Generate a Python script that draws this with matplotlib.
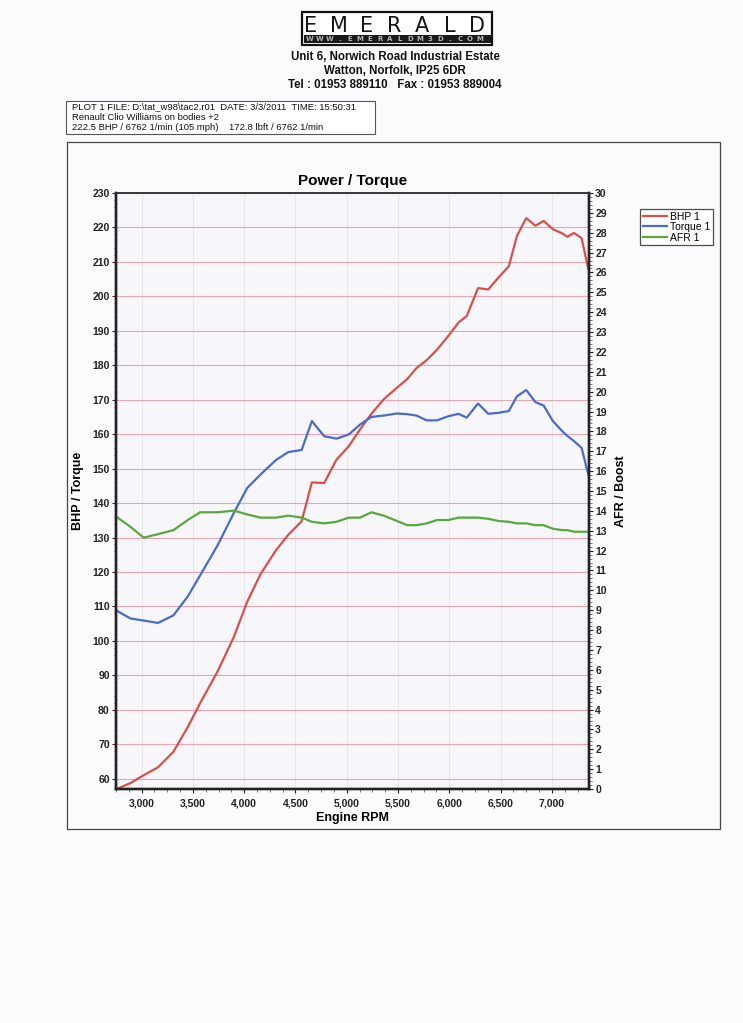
import matplotlib as mpl
mpl.use('Agg')
import matplotlib.pyplot as plt
import matplotlib.ticker as tick
from matplotlib.patches import Rectangle

plt.rcParams['font.family'] = ['Liberation Sans', 'DejaVu Sans']

# ---- data ----
rpm = [2755, 2890, 3020, 3160, 3310, 3450, 3570, 3740, 3900, 4030,
       4160, 4310, 4430, 4560, 4660, 4780, 4900, 5020, 5130, 5240,
       5360, 5490, 5590, 5680, 5780, 5880, 5990, 6090, 6170, 6280,
       6380, 6480, 6580, 6660, 6750, 6840, 6920, 7010, 7100, 7150,
       7215, 7290, 7355]
bhp = [57.0, 58.7, 61.0, 63.3, 67.8, 75.0, 81.9, 91.1, 101.2, 111.4,
       119.4, 126.3, 130.8, 134.7, 146.0, 145.8, 152.6, 156.5, 161.4, 165.9,
       170.1, 173.5, 176.0, 179.2, 181.5, 184.5, 188.5, 192.4, 194.3, 202.4,
       202.0, 205.5, 208.7, 217.6, 222.7, 220.5, 221.9, 219.5, 218.3, 217.3,
       218.4, 216.9, 207.9]
torque = [108.8, 106.5, 105.9, 105.2, 107.4, 112.9, 119.0, 127.7, 137.2, 144.4,
          148.3, 152.5, 154.8, 155.4, 163.8, 159.4, 158.7, 159.9, 162.8, 165.0,
          165.4, 166.0, 165.8, 165.4, 164.0, 164.0, 165.2, 165.9, 164.8, 168.9,
          165.9, 166.2, 166.7, 171.0, 172.8, 169.3, 168.3, 163.8, 160.9, 159.5,
          158.0, 156.0, 148.3]
afr = [13.7, 13.2, 12.65, 12.83, 13.03, 13.54, 13.93, 13.93, 14.01, 13.82,
       13.66, 13.66, 13.76, 13.66, 13.45, 13.37, 13.45, 13.66, 13.66, 13.93,
       13.76, 13.49, 13.28, 13.28, 13.37, 13.54, 13.54, 13.66, 13.66, 13.66,
       13.6, 13.49, 13.45, 13.37, 13.37, 13.28, 13.28, 13.1, 13.03, 13.03,
       12.95, 12.95, 12.95]

series_labels = ['BHP 1', 'Torque 1', 'AFR 1']

info_lines = ['PLOT 1 FILE: D:\\tat_w98\\tac2.r01  DATE: 3/3/2011  TIME: 15:50:31',
              'Renault Clio Williams on bodies +2',
              '222.5 BHP / 6762 1/min (105 mph)    172.8 lbft / 6762 1/min']
address_lines = ['Unit 6, Norwich Road Industrial Estate',
                 'Watton, Norfolk, IP25 6DR',
                 'Tel : 01953 889110   Fax : 01953 889004']

W, H = 743, 1023
fig = plt.figure(figsize=(W / 100, H / 100), dpi=100)
fig.patch.set_facecolor('#fbfbfd')

def fx(px): return px / W
def fy(py): return 1 - py / H

# ---- header / logo ----
fig.patches.append(Rectangle((fx(302), fy(44.7)), fx(492) - fx(302), fy(12) - fy(44.7),
                             transform=fig.transFigure, facecolor='white',
                             edgecolor='#111111', linewidth=1.6))
fig.patches.append(Rectangle((fx(303.5), fy(43.3)), fx(490.5) - fx(303.5), fy(35.3) - fy(43.3),
                             transform=fig.transFigure, facecolor='#1a1a1a',
                             edgecolor='none'))
for i, ch in enumerate('EMERALD'):
    fig.text(fx(311 + i * 27.7), fy(25.5), ch, fontsize=15, family='DejaVu Sans',
             ha='center', va='center', color='#151515')
for i, ch in enumerate('WWW.EMERALDM3D.COM'):
    fig.text(fx(310 + i * 10.0), fy(39.3), ch, fontsize=5.0, family='DejaVu Sans',
             ha='center', va='center', color='#b5b5b5', fontweight='bold')
for i, line in enumerate(address_lines):
    fig.text(fx(395), fy(57 + i * 14), line, fontsize=8.3, fontweight='bold',
             ha='center', va='center', color='#111111')

# ---- info box ----
fig.patches.append(Rectangle((fx(66), fy(134)), fx(375) - fx(66), fy(101) - fy(134),
                             transform=fig.transFigure, facecolor='white',
                             edgecolor='#555555', linewidth=0.8))
for i, line in enumerate(info_lines):
    fig.text(fx(72), fy(109.5 + i * 10), line, fontsize=6.8, ha='left', va='baseline',
             color='#111111')

# ---- chart frame ----
fig.patches.append(Rectangle((fx(67), fy(829)), fx(720) - fx(67), fy(142) - fy(829),
                             transform=fig.transFigure, facecolor='none',
                             edgecolor='#444444', linewidth=0.9))

ax1 = fig.add_axes([fx(116), fy(789), fx(589) - fx(116), fy(193) - fy(789)])
ax1.set_facecolor('#f6f6fb')
ax2 = ax1.twinx()

red = '#d9504a'
blue = '#4a6cc8'
green = '#58a83c'
l1, = ax1.plot(rpm, bhp, color=red, linewidth=1.6, label=series_labels[0])
l2, = ax1.plot(rpm, torque, color=blue, linewidth=1.6, label=series_labels[1])
l3, = ax2.plot(rpm, afr, color=green, linewidth=1.6, label=series_labels[2])

ax1.set_xlim(2750, 7362)
ax1.set_ylim(57, 230)
ax2.set_ylim(0, 30)

ax1.xaxis.set_major_locator(tick.MultipleLocator(500))
ax1.xaxis.set_minor_locator(tick.MultipleLocator(125))
ax1.xaxis.set_major_formatter(tick.FuncFormatter(lambda v, p: f'{int(v):,}'))
ax1.yaxis.set_major_locator(tick.MultipleLocator(10))
ax1.yaxis.set_minor_locator(tick.MultipleLocator(2))
ax2.yaxis.set_major_locator(tick.MultipleLocator(1))
ax2.yaxis.set_minor_locator(tick.MultipleLocator(0.2))

ax1.grid(which='major', axis='y', color='#eaa4ad', linewidth=0.8)
ax1.grid(which='major', axis='x', color='#e2e2e8', linewidth=0.6)
ax1.set_axisbelow(True)

for ax in (ax1, ax2):
    for s in ('left', 'bottom', 'right'):
        ax.spines[s].set_linewidth(1.7)
        ax.spines[s].set_color('#222222')
    ax.spines['top'].set_linewidth(1.1)
    ax.spines['top'].set_color('#333333')
    ax.tick_params(which='major', length=3, width=0.8, labelsize=7.5, pad=1.5,
                   colors='#222222')
    ax.tick_params(which='minor', length=1.8, width=0.5, colors='#444444')
ax1.tick_params(axis='x', which='major', pad=4)
for lab in ax1.get_xticklabels() + ax1.get_yticklabels() + ax2.get_yticklabels():
    lab.set_fontweight('bold')

ax1.set_title('Power / Torque', fontsize=11, fontweight='bold', pad=6)
ax1.set_xlabel('Engine RPM', fontsize=9, fontweight='bold', labelpad=2)
ax1.set_ylabel('BHP / Torque', fontsize=9, fontweight='bold', labelpad=6)
ax2.set_ylabel('AFR / Boost', fontsize=9, fontweight='bold', labelpad=6)

leg = fig.legend(handles=[l1, l2, l3], loc='upper left',
                 bbox_to_anchor=(fx(640), fy(209)), borderaxespad=0,
                 fontsize=7.5, frameon=True, fancybox=False, edgecolor='#222222',
                 handlelength=2.3, handletextpad=0.3, borderpad=0.25,
                 labelspacing=0.05)
leg.get_frame().set_linewidth(0.9)

fig.savefig('out.png', dpi=100, facecolor=fig.get_facecolor())
